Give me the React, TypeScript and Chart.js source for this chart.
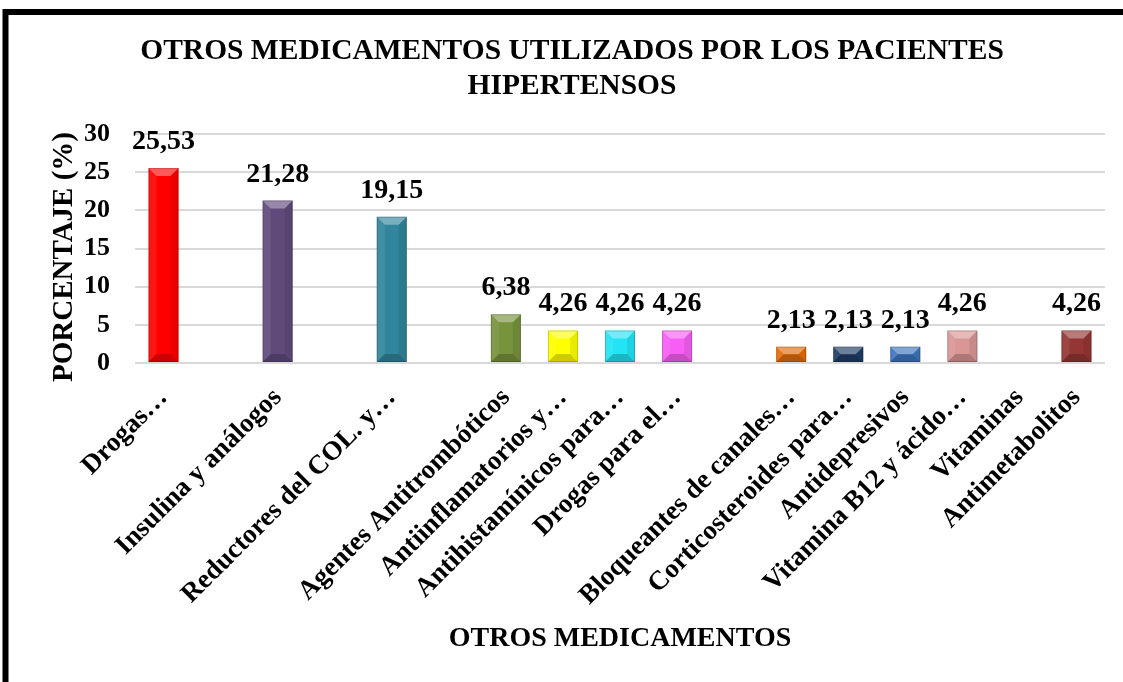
import React, { useEffect, useRef } from "react";
import { Chart, registerables } from "chart.js";

Chart.register(...registerables);

const categories = [
  "Drogas…",
  "",
  "Insulina y análogos",
  "",
  "Reductores del COL. y…",
  "",
  "Agentes Antitrombóticos",
  "Antiinflamatorios y…",
  "Antihistamínicos para…",
  "Drogas para el…",
  "",
  "Bloqueantes de canales…",
  "Corticosteroides para…",
  "Antidepresivos",
  "Vitamina B12 y ácido…",
  "Vitaminas",
  "Antimetabolitos",
];

const values: (number | null)[] = [
  25.53, null, 21.28, null, 19.15, null, 6.38, 4.26, 4.26, 4.26, null, 2.13, 2.13, 2.13, 4.26, null, 4.26,
];

const barColors = [
  "#FF0000", "#FFFFFF", "#604A7B", "#FFFFFF", "#31859C", "#FFFFFF", "#77933C", "#FFFF00",
  "#22E4F5", "#F75FF4", "#FFFFFF", "#E46C0A", "#1F3D66", "#3D76BF", "#D99694", "#FFFFFF", "#943634",
];

const titleLines = ["OTROS MEDICAMENTOS UTILIZADOS POR LOS PACIENTES", "HIPERTENSOS"];
const xTitle = "OTROS MEDICAMENTOS";
const yTitle = "PORCENTAJE (%)";
const yMin = 0;
const yMax = 30;
const yStep = 5;

const FONT = '"Liberation Serif", "Times New Roman", serif';

const fmt = (v: number) => v.toFixed(2).replace(".", ",");

const framePlugin = {
  id: "frame",
  beforeDraw(chart: any) {
    const ctx = chart.ctx;
    ctx.save();
    ctx.fillStyle = "#FFFFFF";
    ctx.fillRect(0, 0, chart.width, chart.height);
    ctx.strokeStyle = "#000000";
    ctx.lineWidth = 6;
    ctx.strokeRect(5.5, 12, 1300, 900);
    ctx.restore();
  },
};

const textPlugin = {
  id: "texts",
  afterDraw(chart: any) {
    const ctx = chart.ctx;
    ctx.save();
    ctx.fillStyle = "#000000";
    ctx.textAlign = "center";
    ctx.textBaseline = "alphabetic";
    ctx.font = `bold 29.5px ${FONT}`;
    ctx.fillText(titleLines[0], 572, 59);
    ctx.fillText(titleLines[1], 572, 94);
    const ca = chart.chartArea;
    ctx.font = `bold 28px ${FONT}`;
    ctx.fillText(xTitle, (ca.left + ca.right) / 2, 646);
    ctx.font = `bold 29px ${FONT}`;
    ctx.translate(72, 257);
    ctx.rotate(-Math.PI / 2);
    ctx.fillText(yTitle, 0, 0);
    ctx.restore();
  },
};

const bevelPlugin = {
  id: "bevel",
  afterDatasetsDraw(chart: any) {
    const ctx = chart.ctx;
    const meta = chart.getDatasetMeta(0);
    ctx.save();
    meta.data.forEach((bar: any, i: number) => {
      if (values[i] == null) return;
      const { x, y, base, width } = bar.getProps(["x", "y", "base", "width"], true);
      const L = x - width / 2;
      const R = x + width / 2;
      const T = y;
      const B = base;
      const h = B - T;
      const d = Math.min(8, h / 2, width / 2);
      ctx.fillStyle = "rgba(255,255,255,0.35)";
      ctx.beginPath();
      ctx.moveTo(L, T);
      ctx.lineTo(R, T);
      ctx.lineTo(R - d, T + d);
      ctx.lineTo(L + d, T + d);
      ctx.closePath();
      ctx.fill();
      ctx.fillStyle = "rgba(0,0,0,0.2)";
      ctx.beginPath();
      ctx.moveTo(L, B);
      ctx.lineTo(R, B);
      ctx.lineTo(R - d, B - d);
      ctx.lineTo(L + d, B - d);
      ctx.closePath();
      ctx.fill();
      ctx.fillStyle = "rgba(255,255,255,0.08)";
      ctx.beginPath();
      ctx.moveTo(L, T);
      ctx.lineTo(L + d, T + d);
      ctx.lineTo(L + d, B - d);
      ctx.lineTo(L, B);
      ctx.closePath();
      ctx.fill();
      ctx.fillStyle = "rgba(0,0,0,0.08)";
      ctx.beginPath();
      ctx.moveTo(R, T);
      ctx.lineTo(R - d, T + d);
      ctx.lineTo(R - d, B - d);
      ctx.lineTo(R, B);
      ctx.closePath();
      ctx.fill();
      ctx.strokeStyle = "rgba(0,0,0,0.18)";
      ctx.lineWidth = 1;
      ctx.strokeRect(L + 0.5, T + 0.5, width - 1, h - 1);
    });
    ctx.restore();
  },
};

const dataLabelPlugin = {
  id: "dataLabels",
  afterDatasetsDraw(chart: any) {
    const ctx = chart.ctx;
    const meta = chart.getDatasetMeta(0);
    ctx.save();
    ctx.fillStyle = "#000000";
    ctx.font = `bold 28px ${FONT}`;
    ctx.textAlign = "center";
    ctx.textBaseline = "alphabetic";
    meta.data.forEach((bar: any, i: number) => {
      const v = values[i];
      if (v == null) return;
      const { x, y } = bar.getProps(["x", "y"], true);
      ctx.fillText(fmt(v), x, y - 19);
    });
    ctx.restore();
  },
};

export default function App() {
  const canvasRef = useRef<HTMLCanvasElement | null>(null);

  useEffect(() => {
    if (!canvasRef.current) return;
    const chart = new Chart(canvasRef.current, {
      type: "bar",
      data: {
        labels: categories,
        datasets: [
          {
            data: values as any,
            backgroundColor: barColors,
            borderWidth: 0,
            barPercentage: 0.526,
            categoryPercentage: 1,
          },
        ],
      },
      options: {
        responsive: false,
        maintainAspectRatio: false,
        animation: false,
        layout: { padding: { left: 0, right: 18, top: 134, bottom: 27 } },
        plugins: {
          legend: { display: false },
          title: { display: false },
          tooltip: { enabled: false },
        },
        scales: {
          x: {
            grid: { display: false, drawTicks: false },
            border: { display: false },
            ticks: {
              autoSkip: false,
              maxRotation: 45,
              minRotation: 45,
              padding: 19,
              color: "#000000",
              font: { family: FONT, size: 27, weight: "bold" },
            },
            afterFit: (scale: any) => {
              scale.height = 292;
            },
          },
          y: {
            min: yMin,
            max: yMax,
            grid: { color: "#D9D9D9", lineWidth: 2, drawTicks: false },
            border: { display: false },
            ticks: {
              stepSize: yStep,
              padding: 25,
              color: "#000000",
              font: { family: FONT, size: 26, weight: "bold" },
            },
            afterFit: (scale: any) => {
              scale.width = 135;
            },
          },
        },
      },
      plugins: [framePlugin, bevelPlugin, dataLabelPlugin, textPlugin],
    } as any);
    return () => chart.destroy();
  }, []);

  return (
    <div style={{ position: "fixed", left: 0, top: 0, width: 1123, height: 682, background: "#fff" }}>
      <canvas ref={canvasRef} width={1123} height={682} style={{ width: 1123, height: 682, display: "block" }} />
    </div>
  );
}
